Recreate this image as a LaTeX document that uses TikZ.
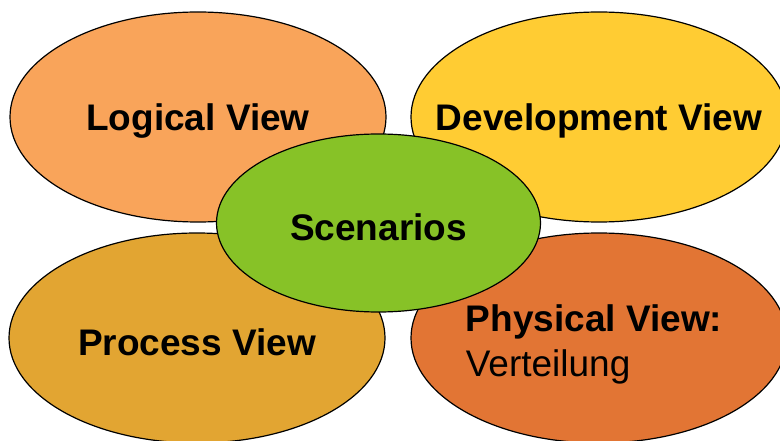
\documentclass[tikz,border=0pt]{standalone}
\usepackage{fontspec}
\setmainfont{Liberation Sans}
\usetikzlibrary{shapes.geometric}
\definecolor{logicalcolor}{HTML}{F9A45A}
\definecolor{devcolor}{HTML}{FFCC33}
\definecolor{processcolor}{HTML}{E2A532}
\definecolor{physicalcolor}{HTML}{E27534}
\definecolor{scenariocolor}{HTML}{87C227}

\begin{document}
\begin{tikzpicture}[
    x=1pt, y=-1pt,
    line width=1.2pt,
    font=\fontsize{37}{42}\selectfont,
    view/.style={ellipse, draw=black, inner sep=0pt,
        minimum width=376pt, minimum height=210pt},
    viewtext/.style={inner sep=0pt, yshift=-4pt, font=\fontsize{37}{42}\selectfont\bfseries}
]

    % Canvas: 780 x 441, origin top left
    \useasboundingbox (0, 0) rectangle (780, 441);

    % 1. The four views
    \node[view, fill=logicalcolor] (logical) at (198, 117) {};
    \node[view, fill=devcolor] (development) at (599, 117) {};
    \node[view, fill=processcolor] (process) at (197, 338) {};
    \node[view, fill=physicalcolor] (physical) at (599, 338) {};

    \node[viewtext] (logicaltext) at (logical.center) {Logical View};
    \node[viewtext] (developmenttext) at (development.center) {Development View};
    \node[viewtext] (processtext) at (process.center) {Process View};
    \node[viewtext, align=left, xshift=-5pt, yshift=-2.5pt] (physicaltext) at (physical.center)
        {Physical View:\\[3pt]\mdseries Verteilung};

    % 2. Scenarios on top, in the middle
    \node[view, fill=scenariocolor, minimum width=324pt, minimum height=178pt]
        (scenarios) at (378.5, 223) {};
    \node[viewtext] (scenariostext) at (scenarios.center) {Scenarios};

\end{tikzpicture}
\end{document}
